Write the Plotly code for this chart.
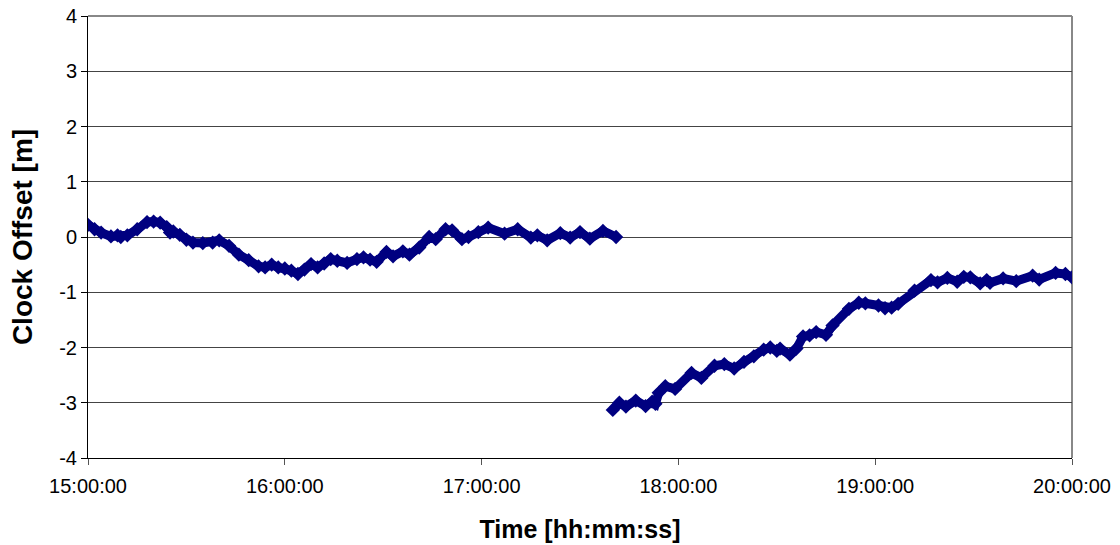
import plotly.graph_objects as go

DAY = "2000-01-01 "

# First session: 15:00 - 17:41
seg1_time = ["15:00", "15:02", "15:04", "15:07", "15:09", "15:10", "15:12", "15:15",
             "15:18", "15:20", "15:22", "15:24", "15:25", "15:26", "15:28", "15:30",
             "15:32", "15:35", "15:38", "15:40", "15:43", "15:46", "15:49", "15:52",
             "15:54", "15:56", "15:58", "16:00", "16:02", "16:04", "16:06", "16:08",
             "16:10", "16:12", "16:14", "16:16", "16:19", "16:22", "16:24", "16:26",
             "16:28", "16:31", "16:33", "16:36", "16:38", "16:41", "16:44", "16:46",
             "16:49", "16:51", "16:54", "16:56", "16:59", "17:02", "17:07", "17:11",
             "17:15", "17:17", "17:20", "17:24", "17:27", "17:30", "17:33", "17:37",
             "17:41"]
seg1_offset = [0.22, 0.14, 0.08, 0.01, 0.03, 0.00, 0.03, 0.14,
               0.27, 0.28, 0.26, 0.18, 0.08, 0.10, 0.04, -0.05,
               -0.10, -0.11, -0.10, -0.06, -0.16, -0.32, -0.42, -0.53,
               -0.55, -0.50, -0.55, -0.57, -0.61, -0.67, -0.59, -0.49,
               -0.55, -0.48, -0.40, -0.43, -0.47, -0.40, -0.37, -0.41,
               -0.45, -0.27, -0.35, -0.26, -0.32, -0.19, 0.00, -0.04,
               0.14, 0.12, -0.04, 0.00, 0.09, 0.17, 0.06, 0.14,
               -0.01, 0.03, -0.06, 0.07, -0.01, 0.09, -0.03, 0.11,
               0.00]

# Second session: 17:40 - 20:00
seg2_time = ["17:40", "17:42", "17:44", "17:47", "17:50", "17:52", "17:53", "17:54",
             "17:56", "17:59", "18:04", "18:07", "18:11", "18:14", "18:17", "18:20",
             "18:23", "18:26", "18:28", "18:30", "18:31", "18:34", "18:36", "18:38",
             "18:40", "18:42", "18:45", "18:47", "18:52", "18:55", "18:57", "19:01",
             "19:03", "19:05", "19:07", "19:12", "19:17", "19:19", "19:22", "19:25",
             "19:27", "19:29", "19:32", "19:34", "19:35", "19:39", "19:43", "19:48",
             "19:50", "19:55", "19:58", "20:00"]
seg2_offset = [-3.13, -3.00, -3.07, -2.96, -3.06, -2.98, -3.02, -2.82,
               -2.70, -2.75, -2.46, -2.55, -2.33, -2.30, -2.38, -2.26,
               -2.16, -2.04, -2.00, -2.06, -2.02, -2.13, -2.02, -1.80,
               -1.78, -1.72, -1.77, -1.60, -1.30, -1.19, -1.20, -1.24,
               -1.29, -1.28, -1.21, -0.97, -0.78, -0.82, -0.74, -0.81,
               -0.72, -0.73, -0.84, -0.78, -0.83, -0.75, -0.80, -0.70,
               -0.77, -0.65, -0.67, -0.73]

y_ticks = [-4, -3, -2, -1, 0, 1, 2, 3, 4]
y_labels = ["-4", "-3", "-2", "-1", "0", "1", "2", "3", "4"]
x_ticks = ["15:00", "16:00", "17:00", "18:00", "19:00", "20:00"]

NAVY = "#000080"
FONT = "Arial, Liberation Sans, sans-serif"

fig = go.Figure()
for times, vals in [(seg1_time, seg1_offset), (seg2_time, seg2_offset)]:
    fig.add_trace(go.Scatter(
        x=[DAY + t for t in times], y=vals,
        mode="lines+markers",
        line=dict(color=NAVY, width=9),
        marker=dict(symbol="diamond", size=11, color=NAVY),
        showlegend=False, hoverinfo="skip",
    ))

fig.update_layout(
    width=1120, height=545,
    margin=dict(l=88, r=48, t=16, b=87),
    paper_bgcolor="white", plot_bgcolor="white",
    font=dict(family=FONT, size=20, color="black"),
    xaxis=dict(
        type="date",
        range=[DAY + x_ticks[0], DAY + x_ticks[-1]],
        tickvals=[DAY + t for t in x_ticks],
        tickformat="%H:%M:%S",
        ticks="outside", ticklen=6, tickcolor="#555555", tickwidth=1,
        ticklabelstandoff=4,
        showline=True, linecolor="black", linewidth=1,
        showgrid=False, zeroline=False, automargin=False,
        title=dict(text="<b>Time [hh:mm:ss]</b>", font=dict(size=25), standoff=24),
    ),
    yaxis=dict(
        range=[y_ticks[0], y_ticks[-1]],
        tickvals=y_ticks, ticktext=y_labels,
        ticks="outside", ticklen=6, tickcolor="black", tickwidth=1,
        showline=True, linecolor="black", linewidth=1,
        showgrid=True, gridcolor="#444444", gridwidth=1,
        zeroline=False, automargin=False,
        title=dict(text="<b>Clock Offset [m]</b>", font=dict(size=28), standoff=18),
    ),
    shapes=[
        dict(type="line", xref="paper", yref="paper", x0=0, x1=1, y0=1, y1=1,
             line=dict(color="#888888", width=2), layer="below"),
        dict(type="line", xref="paper", yref="paper", x0=1, x1=1, y0=0, y1=1,
             line=dict(color="#888888", width=2), layer="below"),
    ],
)

fig.write_html("out.html")
